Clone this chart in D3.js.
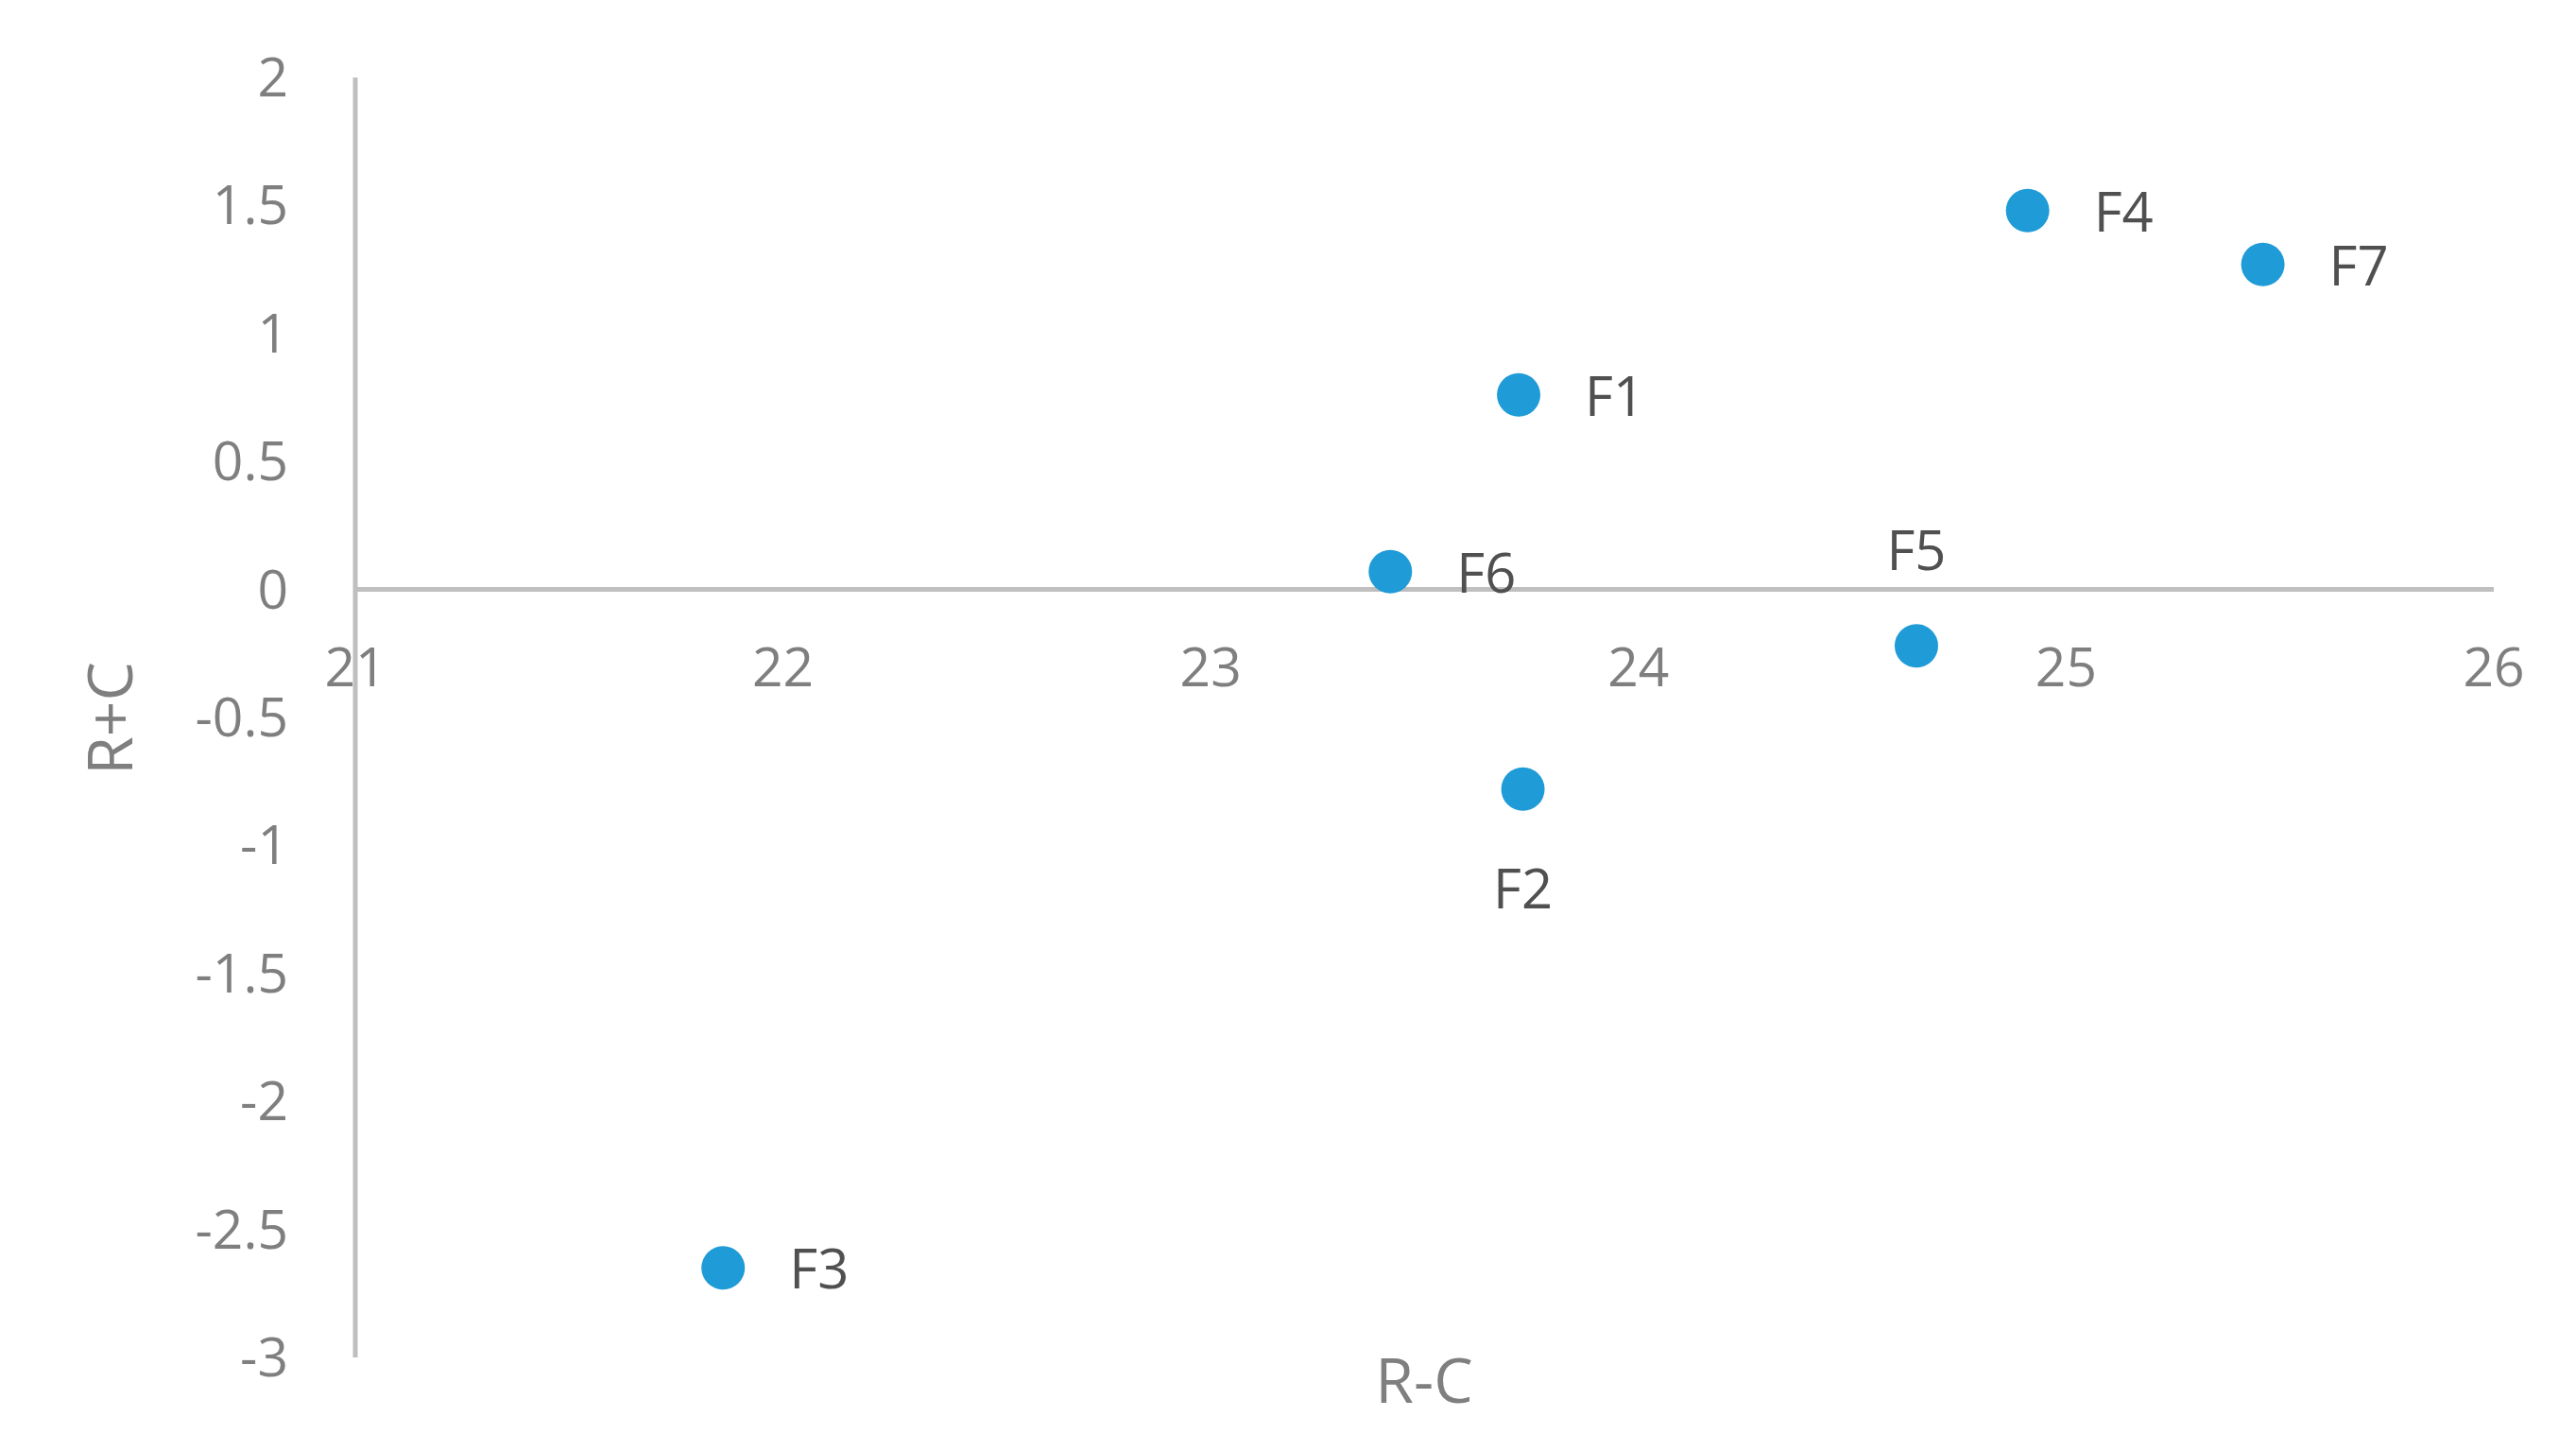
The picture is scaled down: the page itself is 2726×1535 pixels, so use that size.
<!DOCTYPE html>
<html><head><meta charset="utf-8">
<script src="https://cdn.jsdelivr.net/npm/d3@7"></script>
<style>body{margin:0;background:#fff}</style>
</head><body>
<svg id="chart" width="2726" height="1535"></svg>
<script>
var names = ["F1","F2","F3","F4","F5","F6","F7"];
var rc = [23.72, 23.73, 21.86, 24.91, 24.65, 23.42, 25.46];
var rpc = [0.76, -0.78, -2.65, 1.48, -0.22, 0.07, 1.27];
var labelPos = ["right","below","right","right","above","right","right"];
var xTicks = [21,22,23,24,25,26];
var yTicks = [2,1.5,1,0.5,0,-0.5,-1,-1.5,-2,-2.5,-3];

var svg = d3.select("#chart");
var font = "'Open Sans', sans-serif";
var x = d3.scaleLinear().domain([21,26]).range([376,2639]);
var y = d3.scaleLinear().domain([-3,2]).range([1436,82]);

// axes lines
svg.append("line").attr("x1",x(21)).attr("x2",x(21)).attr("y1",y(2)).attr("y2",y(-3))
  .attr("stroke","#bfbfbf").attr("stroke-width",5);
svg.append("line").attr("x1",x(21)).attr("x2",x(26)).attr("y1",y(0)).attr("y2",y(0))
  .attr("stroke","#bfbfbf").attr("stroke-width",5);

svg.selectAll(".yt").data(yTicks).enter().append("text")
  .attr("x",305).attr("y",function(d){return y(d);}).attr("dy","0.35em")
  .attr("text-anchor","end").attr("font-family",font).attr("font-size",57)
  .attr("fill","#7f7f7f").text(function(d){return d;});

svg.selectAll(".xt").data(xTicks).enter().append("text")
  .attr("x",function(d){return x(d);}).attr("y",y(0)+102)
  .attr("text-anchor","middle").attr("font-family",font).attr("font-size",57)
  .attr("fill","#7f7f7f").text(function(d){return d;});

svg.append("text").attr("x",1507).attr("y",1484).attr("text-anchor","middle")
  .attr("font-family",font).attr("font-size",66).attr("fill","#7f7f7f").text("R-C");
svg.append("text").attr("transform","translate(140,760) rotate(-90)").attr("text-anchor","middle")
  .attr("font-family",font).attr("font-size",66).attr("fill","#7f7f7f").text("R+C");

var idx = d3.range(names.length);
svg.selectAll(".pt").data(idx).enter().append("circle")
  .attr("cx",function(i){return x(rc[i]);}).attr("cy",function(i){return y(rpc[i]);})
  .attr("r",23).attr("fill","#1f9bd7");

svg.selectAll(".lb").data(idx).enter().append("text")
  .attr("x",function(i){ return labelPos[i]=="right" ? x(rc[i])+70 : x(rc[i]); })
  .attr("y",function(i){
    var p = labelPos[i], cy = y(rpc[i]);
    return p=="above" ? cy-80 : p=="below" ? cy+126 : cy+22; })
  .attr("text-anchor",function(i){ return labelPos[i]=="right" ? "start" : "middle"; })
  .attr("font-family",font).attr("font-size",58).attr("fill","#505050")
  .text(function(i){return names[i];});
</script>
</body></html>
